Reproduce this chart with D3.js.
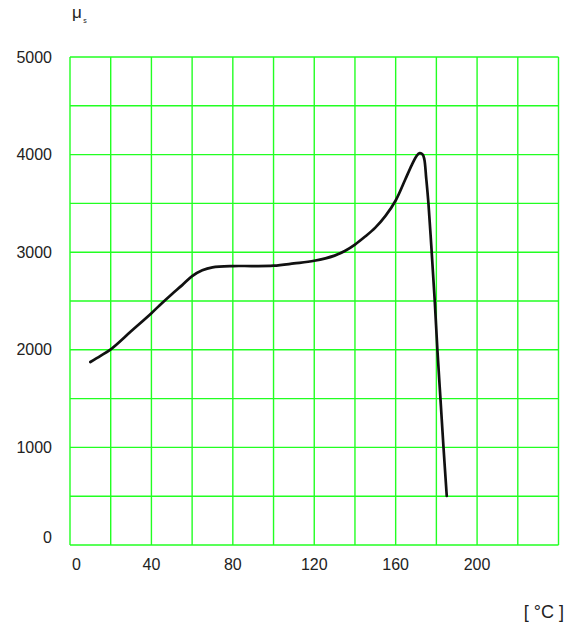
<!DOCTYPE html>
<html>
<head>
<meta charset="utf-8">
<script src="https://cdn.jsdelivr.net/npm/d3@7"></script>
<style>
  html, body { margin: 0; padding: 0; background: #fff; }
  text { font-family: "Liberation Sans", Arial, sans-serif; fill: #222; }
</style>
</head>
<body>
<div id="chart"></div>
<script>
// temperature [°C] and permeability
const temps = [10, 15, 20, 30, 40, 45, 50, 55, 60, 65, 70, 80, 90, 100, 110, 120, 130, 135, 140, 145, 150, 155, 160, 164.6, 167.9, 170.4, 171.8, 173.3, 174.1, 175, 176.1, 177.7, 179.2, 180.5, 182, 183.5, 185.1];
const mu    = [1875, 1938, 2005, 2190, 2375, 2475, 2570, 2660, 2755, 2815, 2845, 2858, 2858, 2862, 2885, 2912, 2965, 3012, 3078, 3160, 3252, 3372, 3530, 3740, 3893, 3990, 4015, 4000, 3950, 3760, 3500, 3000, 2500, 2000, 1500, 1000, 502];

const xGrid = d3.range(0, 241, 20);
const yGrid = d3.range(0, 5001, 500);
const xTickLabels = [0, 40, 80, 120, 160, 200];
const yTickLabels = [0, 1000, 2000, 3000, 4000, 5000];

const W = 572, H = 626;
const svg = d3.select('#chart').append('svg').attr('width', W).attr('height', H);

const x = d3.scaleLinear().domain([0, 240]).range([70, 558.5]);
const y = d3.scaleLinear().domain([0, 5000]).range([545, 57]);

const green = '#22ff22';
svg.append('g').selectAll('line').data(xGrid).join('line')
  .attr('x1', d => x(d)).attr('x2', d => x(d)).attr('y1', y(0)).attr('y2', y(5000))
  .attr('stroke', green).attr('stroke-width', 1.4);
svg.append('g').selectAll('line').data(yGrid).join('line')
  .attr('x1', x(0)).attr('x2', x(240)).attr('y1', d => y(d)).attr('y2', d => y(d))
  .attr('stroke', green).attr('stroke-width', 1.4);

// y labels
svg.append('g').selectAll('text').data(yTickLabels).join('text')
  .attr('x', 52).attr('y', d => d === 0 ? y(d) - 8 : y(d))
  .attr('dy', '0.35em').attr('text-anchor', 'end').attr('font-size', 16)
  .text(d => d);

// x labels
svg.append('g').selectAll('text').data(xTickLabels).join('text')
  .attr('x', d => d === 0 ? x(d) + 6.5 : x(d)).attr('y', 569.5)
  .attr('text-anchor', 'middle').attr('font-size', 16)
  .text(d => d);

// units
svg.append('text').attr('x', 564).attr('y', 618).attr('text-anchor', 'end')
  .attr('font-size', 18).text('[ °C ]');
const muLbl = svg.append('text').attr('x', 72).attr('y', 17.5).attr('font-size', 17);
muLbl.append('tspan').text('μ');
muLbl.append('tspan').attr('font-size', 7).attr('dx', 1.5).attr('dy', 5).text('s');

// curve
const line = d3.line().x((d, i) => x(temps[i])).y(d => y(d)).curve(d3.curveCatmullRom.alpha(0.5));
svg.append('path').attr('d', line(mu))
  .attr('fill', 'none').attr('stroke', '#111').attr('stroke-width', 2.7)
  .attr('stroke-linecap', 'round').attr('stroke-linejoin', 'round');
</script>
</body>
</html>
